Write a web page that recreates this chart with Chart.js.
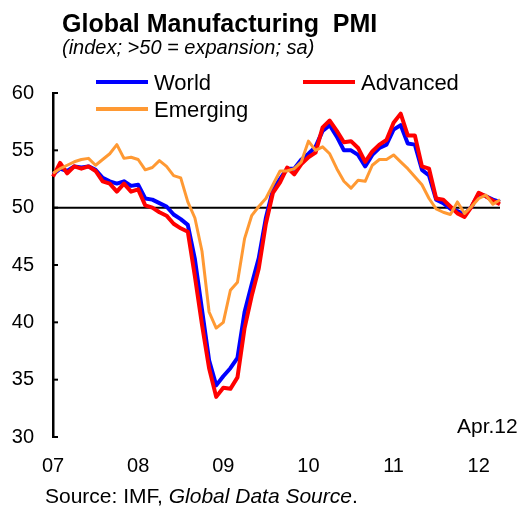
<!DOCTYPE html>
<html>
<head>
<meta charset="utf-8">
<script src="https://cdn.jsdelivr.net/npm/chart.js@4.4.1/dist/chart.umd.min.js"></script>
<style>
  html, body { margin: 0; padding: 0; background: #fff; }
  #wrap { width: 525px; height: 511px; }
</style>
</head>
<body>
<div id="wrap"><canvas id="pmi" width="525" height="511"></canvas></div>
<script>
// monthly, Jan 2007 .. Apr 2012
const years = ['07', '08', '09', '10', '11', '12'];
const months = [];
years.forEach(y => { for (let m = 1; m <= 12; m++) months.push(y + '-' + m); });
months.length = 64;

const world = [
  52.9, 53.4, 53.2, 53.6, 53.5, 53.6, 53.3, 52.6, 52.3, 52.1, 52.3, 51.9,
  52.0, 50.8, 50.7, 50.4, 50.1, 49.4, 49.0, 48.5, 45.5, 41.1, 36.7, 34.5,
  35.3, 36.0, 36.9, 40.9, 43.3, 45.6, 49.1, 51.6, 52.5, 53.4, 53.4, 54.2,
  54.7, 55.3, 56.7, 57.2, 56.2, 55.0, 55.0, 54.6, 53.6, 54.6, 55.2, 55.5,
  56.8, 57.2, 55.6, 55.5, 53.3, 52.8, 50.7, 50.4, 49.9, 49.7, 49.4, 50.1,
  51.2, 51.0, 50.7, 50.5
];
const advanced = [
  52.7, 53.9, 53.0, 53.6, 53.4, 53.6, 53.2, 52.3, 52.1, 51.4, 52.1, 51.4,
  51.6, 50.2, 50.0, 49.6, 49.3, 48.6, 48.2, 47.9, 44.0, 39.8, 36.0, 33.5,
  34.3, 34.2, 35.2, 39.5, 42.3, 44.7, 48.6, 51.3, 52.2, 53.5, 52.9, 53.8,
  54.4, 54.8, 57.0, 57.6, 56.7, 55.7, 55.8, 55.2, 54.0, 54.9, 55.5, 55.9,
  57.4, 58.2, 56.3, 56.3, 53.6, 53.4, 50.8, 50.7, 50.1, 49.5, 49.2, 50.1,
  51.3, 51.0, 50.6, 50.3
];
const emerging = [
  53.0, 53.4, 53.7, 54.0, 54.2, 54.3, 53.7, 54.2, 54.7, 55.5, 54.3, 54.4,
  54.2, 53.3, 53.5, 54.1, 53.6, 52.8, 52.6, 50.5, 49.1, 46.2, 40.9, 39.5,
  40.0, 42.8, 43.5, 47.3, 49.3, 50.1, 50.8, 52.0, 53.2, 53.2, 53.4, 54.0,
  55.8, 55.0, 55.3, 54.7, 53.4, 52.3, 51.7, 52.4, 52.3, 53.7, 54.2, 54.2,
  54.6, 54.0, 53.4, 52.7, 52.0, 50.8, 49.9, 49.6, 49.4, 50.5, 49.5, 50.1,
  50.8, 51.1, 50.3, 50.7
];
const yTicks = [30, 35, 40, 45, 50, 55, 60];

const FONT = '"Liberation Sans", Arial, sans-serif';

// black line at 50, inward y ticks, legend and texts
const extras = {
  id: 'extras',
  beforeDatasetsDraw(chart) {
    const { ctx, chartArea, scales } = chart;
    const y50 = scales.y.getPixelForValue(50);
    ctx.save();
    ctx.strokeStyle = '#000';
    ctx.lineWidth = 2;
    ctx.beginPath();
    ctx.moveTo(chartArea.left, y50);
    ctx.lineTo(chartArea.right, y50);
    ctx.stroke();
    yTicks.forEach(v => {
      const py = scales.y.getPixelForValue(v);
      ctx.beginPath();
      ctx.moveTo(chartArea.left, py);
      ctx.lineTo(chartArea.left + 5, py);
      ctx.stroke();
    });
    ctx.restore();
  },
  afterDraw(chart) {
    const { ctx } = chart;
    ctx.save();
    ctx.fillStyle = '#000';
    ctx.textBaseline = 'alphabetic';
    ctx.font = 'bold 25px ' + FONT;
    ctx.fillText('Global Manufacturing  PMI', 62, 32);
    ctx.font = 'italic 20px ' + FONT;
    ctx.fillText('(index; >50 = expansion; sa)', 62, 54);

    // legend
    const ds = chart.data.datasets;
    const spots = { World: [96, 82], Advanced: [303, 82], Emerging: [96, 109] };
    ctx.font = '22px ' + FONT;
    ds.forEach(d => {
      const [lx, ly] = spots[d.label];
      ctx.strokeStyle = d.borderColor;
      ctx.lineWidth = 4;
      ctx.beginPath();
      ctx.moveTo(lx, ly);
      ctx.lineTo(lx + 52, ly);
      ctx.stroke();
      ctx.fillText(d.label, lx + 58, ly + 8);
    });

    ctx.font = '21px ' + FONT;
    ctx.fillText('Apr.12', 457, 433);

    ctx.font = '21px ' + FONT;
    const s1 = 'Source: IMF, ';
    ctx.fillText(s1, 45, 503);
    const w1 = ctx.measureText(s1).width;
    ctx.font = 'italic 21px ' + FONT;
    const s2 = 'Global Data Source';
    ctx.fillText(s2, 45 + w1, 503);
    const w2 = ctx.measureText(s2).width;
    ctx.font = '21px ' + FONT;
    ctx.fillText('.', 45 + w1 + w2, 503);
    ctx.restore();
  }
};

new Chart(document.getElementById('pmi').getContext('2d'), {
  type: 'line',
  data: {
    labels: months,
    datasets: [
      { label: 'World', data: world, borderColor: '#0000FF', borderWidth: 4, order: 2 },
      { label: 'Advanced', data: advanced, borderColor: '#FF0000', borderWidth: 4, order: 1 },
      { label: 'Emerging', data: emerging, borderColor: '#FF9933', borderWidth: 3, order: 0 }
    ]
  },
  options: {
    responsive: false,
    animation: false,
    devicePixelRatio: 1,
    elements: { point: { radius: 0 }, line: { tension: 0, borderJoinStyle: 'round' } },
    layout: { padding: { top: 93, right: 25, bottom: 34, left: 0 } },
    plugins: { legend: { display: false }, tooltip: { enabled: false } },
    scales: {
      x: {
        type: 'category',
        offset: false,
        grid: { display: false, drawTicks: false },
        border: { display: false },
        afterFit(s) { s.height = 40; },
        ticks: {
          autoSkip: false,
          maxRotation: 0,
          padding: 17,
          color: '#000',
          font: { family: FONT, size: 20 },
          callback(value, index) {
            return index % 12 === 0 ? years[index / 12] : null;
          }
        }
      },
      y: {
        min: 30,
        max: 60,
        grid: { display: false, drawTicks: false },
        border: { display: true, color: '#000', width: 2.5 },
        afterFit(s) { s.width = 53; },
        ticks: {
          stepSize: 5,
          padding: 19,
          color: '#000',
          font: { family: FONT, size: 20 }
        }
      }
    }
  },
  plugins: [extras]
});
</script>
</body>
</html>
